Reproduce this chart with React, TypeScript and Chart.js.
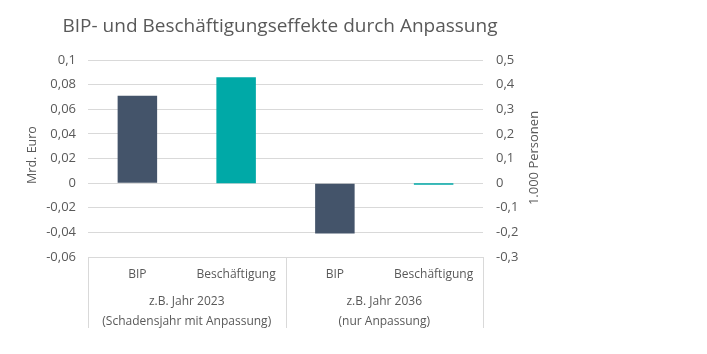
import React, { useEffect, useRef } from "react";
import { Chart, registerables } from "chart.js";

Chart.register(...registerables);

const TITLE = "BIP- und Beschäftigungseffekte durch Anpassung";
const categories = ["BIP", "Beschäftigung", "BIP", "Beschäftigung"];
const groupLabels = [
  ["z.B. Jahr 2023", "(Schadensjahr mit Anpassung)"],
  ["z.B. Jahr 2036", "(nur Anpassung)"],
];
const bipValues = [0.071, null, -0.041, null]; // Mrd. Euro (left axis)
const beschValues = [null, 0.43, null, -0.007]; // 1.000 Personen (right axis)
const leftAxisTitle = "Mrd. Euro";
const rightAxisTitle = "1.000 Personen";

const FONT = "'Open Sans', sans-serif";
const TEXT = "#595959";
const GRID = "#d9d9d9";

const fmt = (v: number, d: number) => {
  const n = Math.round(v * Math.pow(10, d)) / Math.pow(10, d);
  return String(n).replace(".", ",");
};

const decorPlugin = {
  id: "decor",
  afterDraw(chart: any) {
    const ctx = chart.ctx;
    const ca = chart.chartArea;
    const x = chart.scales.x;
    ctx.save();
    // title
    ctx.fillStyle = TEXT;
    ctx.font = `19px ${FONT}`;
    ctx.textAlign = "center";
    ctx.textBaseline = "middle";
    ctx.fillText(TITLE, 280, 27);

    // axis titles
    ctx.font = `12.5px ${FONT}`;
    ctx.save();
    ctx.translate(32, 155);
    ctx.rotate(-Math.PI / 2);
    ctx.fillText(leftAxisTitle, 0, 0);
    ctx.restore();
    ctx.font = `13px ${FONT}`;
    ctx.save();
    ctx.translate(534, 158);
    ctx.rotate(-Math.PI / 2);
    ctx.fillText(rightAxisTitle, 0, 0);
    ctx.restore();

    // category box lines
    const mid = (x.getPixelForValue(1) + x.getPixelForValue(2)) / 2;
    const bottom = ca.bottom + 71;
    ctx.strokeStyle = GRID;
    ctx.lineWidth = 1;
    ctx.beginPath();
    ctx.moveTo(ca.left, ca.bottom + 0.5);
    ctx.lineTo(ca.right, ca.bottom + 0.5);
    [ca.left, mid, ca.right].forEach((px) => {
      const p = Math.round(px) + 0.5;
      ctx.moveTo(p, ca.bottom);
      ctx.lineTo(p, bottom);
    });
    ctx.stroke();

    // category labels
    ctx.font = `12px ${FONT}`;
    ctx.fillStyle = TEXT;
    categories.forEach((c, i) => {
      ctx.fillText(c, x.getPixelForValue(i), ca.bottom + 18);
    });
    // group labels
    const centers = [(ca.left + mid) / 2, (mid + ca.right) / 2];
    groupLabels.forEach((lines, g) => {
      lines.forEach((l, j) => {
        ctx.fillText(l, centers[g], ca.bottom + 45 + j * 20);
      });
    });
    ctx.restore();
  },
};

export default function App() {
  const ref = useRef<HTMLCanvasElement>(null);
  useEffect(() => {
    if (!ref.current) return;
    const chart = new Chart(ref.current, {
      type: "bar",
      data: {
        labels: categories,
        datasets: [
          {
            label: "BIP",
            data: bipValues,
            backgroundColor: "#44546A",
            yAxisID: "y",
            grouped: false,
            barPercentage: 0.4,
            categoryPercentage: 1,
          } as any,
          {
            label: "Beschäftigung",
            data: beschValues,
            backgroundColor: "#00A9A7",
            yAxisID: "y1",
            grouped: false,
            barPercentage: 0.4,
            categoryPercentage: 1,
          } as any,
        ],
      },
      options: {
        animation: false,
        responsive: false,
        maintainAspectRatio: false,
        layout: { padding: { top: 60, left: 0, right: 0, bottom: 0 } },
        plugins: {
          legend: { display: false },
          title: { display: false },
          tooltip: { enabled: false },
        },
        scales: {
          x: {
            grid: { display: false },
            border: { display: false },
            ticks: { display: false },
            afterFit: (s: any) => {
              s.height = 97;
            },
          },
          y: {
            position: "left",
            min: -0.06,
            max: 0.1,
            ticks: {
              stepSize: 0.02,
              padding: 12,
              color: TEXT,
              font: { family: FONT, size: 13 },
              callback: (v: any) => fmt(Number(v), 2),
            },
            grid: { color: GRID, drawTicks: false, lineWidth: 1 },
            border: { display: false },
            afterFit: (s: any) => {
              s.width = 88;
            },
          },
          y1: {
            position: "right",
            min: -0.3,
            max: 0.5,
            ticks: {
              stepSize: 0.1,
              padding: 13,
              color: TEXT,
              font: { family: FONT, size: 13 },
              callback: (v: any) => fmt(Number(v), 1),
            },
            grid: { display: false, drawTicks: false },
            border: { display: false },
            afterFit: (s: any) => {
              s.width = 224;
            },
          },
        },
      } as any,
      plugins: [decorPlugin],
    });
    return () => chart.destroy();
  }, []);
  return (
    <div style={{ position: "fixed", left: 0, top: 0, width: 707, height: 354, background: "#fff" }}>
      <canvas ref={ref} width={707} height={354} style={{ width: 707, height: 354 }} />
    </div>
  );
}
